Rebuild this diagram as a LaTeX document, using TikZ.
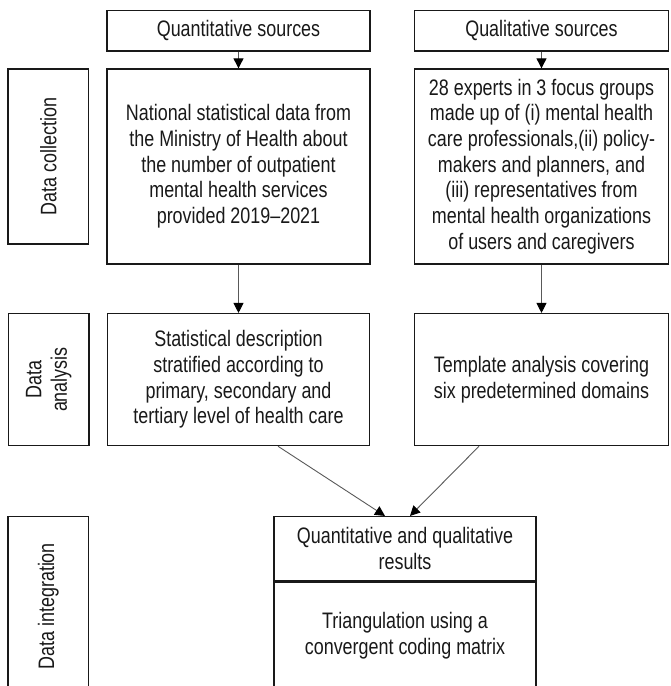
\documentclass[tikz,border=0pt]{standalone}
\usepackage{fontspec}
\setmainfont{Liberation Sans}[FakeStretch=0.8]
\usetikzlibrary{arrows.meta, positioning, calc}
\tikzset{
    box/.style={draw=black!90, line width=0.65pt, fill=white, align=center, text=black!90, inner sep=2pt,
        font=\fontsize{11.2}{12.85}\selectfont},
    sidebox/.style={draw=black!90, line width=0.65pt, minimum width=40.15pt},
    sidetext/.style={rotate=90, align=center, text=black!90, font=\fontsize{11.2}{12.85}\selectfont},
    arrow/.style={-{Triangle[length=5pt, width=5pt, color=black]}, line width=0.45pt, black!65}
}

\begin{document}
\begin{tikzpicture}
        \useasboundingbox (0,0) rectangle (335pt,-343pt);

        % Sources
        \node [box, minimum width=131.5pt, minimum height=20.2pt] (qn) at (119.25pt,-15.4pt) {Quantitative sources};
        \node [box, minimum width=127pt, minimum height=20.2pt] (ql) at (270.75pt,-15.4pt) {Qualitative sources};

        % Data collection
        \node [box, minimum width=131.5pt, minimum height=97.5pt, below=8.35pt of qn] (qnc) {National statistical data from\\the Ministry of Health about\\the number of outpatient\\mental health services\\provided 2019--2021};
        \node [box, minimum width=127pt, minimum height=97.5pt, below=8.35pt of ql] (qlc) {28 experts in 3 focus groups\\made up of (i) mental health\\care professionals,(ii) policy-\\makers and planners, and\\(iii) representatives from\\mental health organizations\\of users and caregivers};
        \draw [arrow] (qn) -- (qnc);
        \draw [arrow] (ql) -- (qlc);

        % Data analysis
        \node [box, minimum width=131pt, minimum height=66pt, below=24.15pt of qnc] (sa) {Statistical description\\stratified according to\\primary, secondary and\\tertiary level of health care};
        \node [box, minimum width=127pt, minimum height=66pt, below=24.15pt of qlc] (ta) {Template analysis covering\\six predetermined domains};
        \draw [arrow] (qnc) -- (sa);
        \draw [arrow] (qlc) -- (ta);

        % Data integration
        \node [box, minimum width=131pt, minimum height=32pt, below=34.85pt of sa, xshift=83.25pt] (res) {Quantitative and qualitative\\results};
        \node [box, minimum width=131pt, minimum height=53.5pt, below=0pt of res] (tri) {Triangulation using a\\convergent coding matrix};
        \draw [arrow] ($(sa.south)+(19.75pt,0)$) -- ($(res.north)+(-10pt,0)$);
        \draw [arrow] ($(ta.south)+(-31.25pt,0)$) -- ($(res.north)+(2.5pt,0)$);

        % Stage labels
        \node [sidebox, minimum height=87.5pt, left=8.65pt of qnc.north west, anchor=north east] (dc) {};
        \node [sidetext] (dct) at (dc) {Data collection};
        \node [sidebox, minimum height=66pt, left=8.65pt of sa.north west, anchor=north east] (da) {};
        \node [sidetext] (dat) at (da) {Data\\analysis};
        \node [sidebox, minimum height=89.7pt, anchor=north] (di) at (dc.south |- res.north) {};
        \node [sidetext] (dit) at (di) {Data integration};
\end{tikzpicture}
\end{document}
